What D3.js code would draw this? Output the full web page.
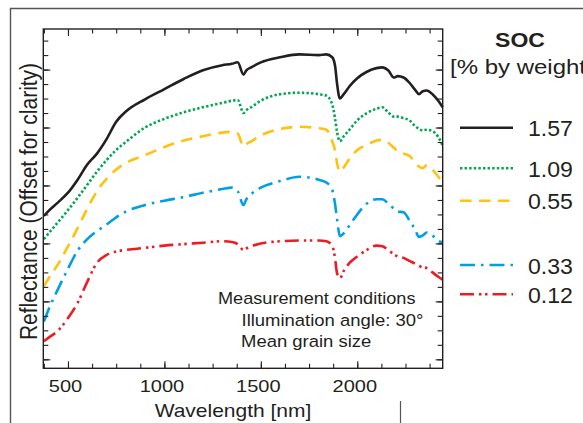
<!DOCTYPE html>
<html>
<head>
<meta charset="utf-8">
<script src="https://cdn.jsdelivr.net/npm/d3@7"></script>
<style>
  body { margin: 0; background: #fff; }
  svg { display: block; font-family: "Liberation Sans", Arial, Helvetica, sans-serif; }
</style>
</head>
<body>
<div id="chart"></div>
<script>
// wavelength grid (nm) shared by all spectra
var wavelengths = [375, 400, 450, 500, 550, 600, 650, 700, 750, 800,
  900, 1000, 1100, 1200, 1300, 1350, 1380, 1410, 1425, 1450,
  1500, 1600, 1700, 1800, 1840, 1870, 1885, 1895, 1910, 1930,
  1960, 2000, 2050, 2100, 2130, 2160, 2190, 2210, 2240, 2270,
  2300, 2320, 2340, 2360, 2390, 2420, 2443];

// reflectance (offset for clarity), one array per SOC level
var soc157 = [19.8, 20.5, 21.7, 23.0, 24.8, 26.9, 28.4, 30.4, 32.8, 34.2,
  35.9, 37.3, 38.7, 39.9, 40.6, 40.8, 41.0, 39.3, 39.9, 40.3,
  41.0, 41.7, 42.1, 42.0, 42.1, 41.7, 40.5, 38.1, 36.0, 36.6,
  37.7, 38.8, 39.7, 40.2, 40.3, 39.9, 38.9, 39.1, 38.9, 38.2,
  37.2, 36.6, 37.0, 37.1, 36.6, 35.7, 34.8];
var soc109 = [16.6, 17.4, 19.0, 20.6, 22.3, 24.1, 25.9, 27.5, 28.9, 30.0,
  32.0, 33.2, 34.1, 34.8, 35.4, 35.7, 35.8, 34.0, 34.4, 34.8,
  35.7, 36.6, 36.8, 36.6, 36.4, 35.2, 33.2, 31.4, 30.1, 30.8,
  31.7, 33.0, 34.0, 34.6, 34.8, 34.1, 33.5, 33.5, 33.3, 33.0,
  32.2, 31.8, 31.6, 31.7, 31.5, 30.7, 29.5];
var soc055 = [10.1, 11.2, 13.2, 15.6, 18.1, 20.8, 23.2, 24.9, 26.2, 27.1,
  28.2, 29.3, 30.2, 30.8, 31.3, 31.4, 31.2, 29.4, 29.7, 30.1,
  30.9, 31.8, 32.1, 31.9, 31.7, 30.1, 28.8, 27.1, 25.9, 26.5,
  27.7, 28.9, 29.6, 30.2, 30.3, 29.9, 29.2, 28.7, 28.4, 28.1,
  27.2, 26.6, 26.4, 26.8, 26.2, 25.2, 24.5];
var soc033 = [5.2, 6.9, 9.8, 12.5, 15.0, 16.6, 17.7, 18.6, 19.6, 20.4,
  21.3, 21.9, 22.4, 23.0, 23.5, 23.7, 23.2, 21.3, 22.1, 22.8,
  23.7, 24.6, 25.2, 24.8, 24.4, 23.4, 21.4, 19.4, 17.0, 17.4,
  18.5, 20.0, 21.5, 22.1, 22.1, 21.5, 20.8, 20.4, 20.3, 19.2,
  17.9, 16.9, 17.1, 17.5, 17.1, 16.3, 16.2];
var soc012 = [2.5, 3.0, 4.0, 5.7, 7.8, 10.7, 13.3, 14.4, 14.9, 15.1,
  15.4, 15.7, 15.9, 16.1, 16.3, 16.2, 15.9, 15.1, 15.3, 15.6,
  16.0, 16.3, 16.4, 16.4, 16.3, 15.7, 13.9, 11.9, 11.2, 12.2,
  13.3, 14.2, 15.1, 15.7, 15.6, 15.1, 14.5, 14.2, 14.0, 13.6,
  13.2, 12.9, 12.7, 12.6, 12.0, 11.4, 11.0];

var socLabels = ["1.57", "1.09", "0.55", "0.33", "0.12"];
var xTickLabels = [500, 1000, 1500, 2000];
var notes = ["Measurement conditions", "Illumination angle: 30\u00b0", "Mean grain size"];

var svgWidth = 583;
var svgHeight = 423;
var plot = { left: 43.3, right: 442.7, top: 29, bottom: 368.3 };
var ink = "#231f20";

var series = [
  { values: soc157, color: "#231f20", dash: null,                    legendY: 127.7 },
  { values: soc109, color: "#00a651", dash: "2.4 2.2",               legendY: 168.3 },
  { values: soc055, color: "#ffc20e", dash: "11.5 7.5",              legendY: 200.7 },
  { values: soc033, color: "#009fe3", dash: "15 6 2.5 6",            legendY: 265 },
  { values: soc012, color: "#ed1c24", dash: "14 5 2.5 3.5 2.5 5",    legendY: 294.3 }
];

var svg = d3.select("#chart")
  .append("svg")
  .attr("width", svgWidth)
  .attr("height", svgHeight);

// horizontally stretched text, the figure's lettering is wider than plain Arial
function addText(sel, x, y, str, size, sx, anchor, weight) {
  return sel.append("text")
    .attr("transform", `translate(${x},${y}) scale(${sx},1)`)
    .attr("text-anchor", anchor || "start")
    .attr("font-size", size)
    .attr("font-weight", weight || "normal")
    .attr("fill", ink)
    .text(str);
}

// outer page frame
svg.append("path")
  .attr("d", `M10.5,${svgHeight} V8.5 H${svgWidth}`)
  .attr("fill", "none")
  .attr("stroke", "#555")
  .attr("stroke-width", 1.4);
svg.append("line")
  .attr("x1", 400.5).attr("x2", 400.5)
  .attr("y1", 401).attr("y2", svgHeight)
  .attr("stroke", "#555")
  .attr("stroke-width", 1.2);

var xScale = d3.scaleLinear()
  .domain([372, 2443])
  .range([plot.left, plot.right]);

var yScale = d3.scaleLinear()
  .domain([-1.24, 45.6])
  .range([plot.bottom, plot.top]);

var line = d3.line()
  .x((d, i) => xScale(wavelengths[i]))
  .y(d => yScale(d))
  .curve(d3.curveMonotoneX);

var lineGroup = svg.append("g");
series.forEach(s => {
  lineGroup.append("path")
    .datum(s.values)
    .attr("d", line)
    .attr("fill", "none")
    .attr("stroke", s.color)
    .attr("stroke-width", 2.6)
    .attr("stroke-dasharray", s.dash)
    .attr("stroke-linejoin", "round");
});

// axes, all ticks pointing inward
var xMinor = d3.range(375, 2443, 125);
var yMinor = d3.range(0, 45, 2);
var yMajor = d3.range(0, 45, 8);

function plainAxis(g) {
  g.select(".domain").remove();
  g.selectAll("line").attr("stroke", ink).attr("stroke-width", 1.1);
}

svg.append("g")
  .attr("transform", `translate(0,${plot.bottom})`)
  .call(d3.axisBottom(xScale).tickValues(xMinor).tickSize(-4.5).tickFormat(""))
  .call(plainAxis);

var xAxis = svg.append("g")
  .attr("transform", `translate(0,${plot.bottom})`)
  .call(d3.axisBottom(xScale)
    .tickValues(xTickLabels)
    .tickSize(-7)
    .tickPadding(12.4)
    .tickFormat(d3.format("d")))
  .call(plainAxis)
  .attr("font-size", null)
  .attr("font-family", null);

xAxis.selectAll("text")
  .attr("font-size", 16)
  .attr("fill", ink)
  .attr("x", -2.4)
  .attr("transform", "scale(1.25,1)");

svg.append("g")
  .attr("transform", `translate(0,${plot.top})`)
  .call(d3.axisTop(xScale).tickValues(xMinor).tickSize(-4.5).tickFormat(""))
  .call(plainAxis);
svg.append("g")
  .attr("transform", `translate(0,${plot.top})`)
  .call(d3.axisTop(xScale).tickValues(xTickLabels).tickSize(-7).tickFormat(""))
  .call(plainAxis);

[[d3.axisLeft, plot.left], [d3.axisRight, plot.right]].forEach(a => {
  svg.append("g")
    .attr("transform", `translate(${a[1]},0)`)
    .call(a[0](yScale).tickValues(yMinor).tickSize(-5).tickFormat(""))
    .call(plainAxis);
  svg.append("g")
    .attr("transform", `translate(${a[1]},0)`)
    .call(a[0](yScale).tickValues(yMajor).tickSize(-7).tickFormat(""))
    .call(plainAxis);
});

// plot frame
svg.append("rect")
  .attr("x", plot.left)
  .attr("y", plot.top)
  .attr("width", plot.right - plot.left)
  .attr("height", plot.bottom - plot.top)
  .attr("fill", "none")
  .attr("stroke", ink)
  .attr("stroke-width", 1.4);

// axis titles
addText(svg, 233, 417, "Wavelength [nm]", 17.5, 1.2, "middle");

svg.append("text")
  .attr("transform", "translate(36.8,201.5) rotate(-90) scale(1,1.1)")
  .attr("text-anchor", "middle")
  .attr("font-size", 21)
  .attr("fill", ink)
  .text("Reflectance (Offset for clarity)");

// measurement notes
addText(svg, 218, 304, notes[0], 16.8, 1.08);
addText(svg, 241.5, 326, notes[1], 16.8, 1.1);
addText(svg, 241, 347, notes[2], 16.8, 1.1);

// legend
addText(svg, 520, 47, "SOC", 20, 1.15, "middle", "bold");
addText(svg, 450, 74, "[% by weight]", 20, 1.2);

var legend = svg.append("g");
series.forEach((s, i) => {
  legend.append("line")
    .attr("x1", 460)
    .attr("x2", 513)
    .attr("y1", s.legendY)
    .attr("y2", s.legendY)
    .attr("stroke", s.color)
    .attr("stroke-width", 2.6)
    .attr("stroke-dasharray", s.dash);
  addText(legend, 528, s.legendY + 8.6, socLabels[i], 22, 1.05);
});
</script>
</body>
</html>
